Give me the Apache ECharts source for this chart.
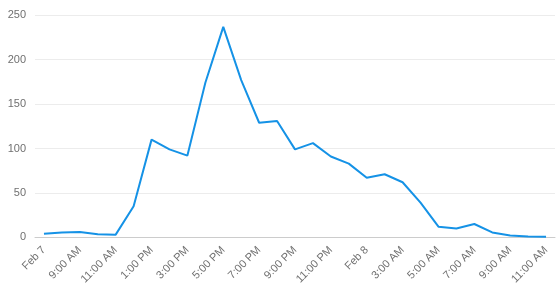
<!DOCTYPE html>
<html><head><meta charset="utf-8">
<script src="https://cdn.jsdelivr.net/npm/echarts@6/dist/echarts.min.js"></script>
<style>html,body{margin:0;padding:0;background:#fff}#c{width:557px;height:302px}</style>
</head><body><div id="c"></div>
<script>
const categories = ["Feb 7","8:00 AM","9:00 AM","10:00 AM","11:00 AM","12:00 PM","1:00 PM","2:00 PM","3:00 PM","4:00 PM","5:00 PM","6:00 PM","7:00 PM","8:00 PM","9:00 PM","10:00 PM","11:00 PM","12:00 AM","Feb 8","2:00 AM","3:00 AM","4:00 AM","5:00 AM","6:00 AM","7:00 AM","8:00 AM","9:00 AM","10:00 AM","11:00 AM"];
const values = [4,5.5,6,3.4,3,35,110,99,92,174,237,177,129,131,99,106,91,83,67,71,62,39,12,10,15,5.5,2,1,0.5];
const yTicks = [0,50,100,150,200,250];

const chart = echarts.init(document.getElementById('c'), null, {renderer:'canvas'});
chart.setOption({
  animation:false,
  grid:{left:35,right:2,top:15.3,bottom:64.7,containLabel:false},
  xAxis:{
    type:'category', data:categories, boundaryGap:true,
    axisLine:{lineStyle:{color:'#cccccc'}},
    axisTick:{alignWithLabel:true, interval:1, length:5, lineStyle:{color:'#cccccc'}},
    axisLabel:{interval:1, rotate:45, color:'#707070', fontSize:11, fontFamily:'Liberation Sans, Arial, sans-serif', margin:11}
  },
  yAxis:{
    type:'value', min:yTicks[0], max:yTicks[yTicks.length-1], interval:50,
    axisLine:{show:false}, axisTick:{show:false},
    splitLine:{lineStyle:{color:'#ececec'}},
    axisLabel:{color:'#707070', fontSize:11, fontFamily:'Liberation Sans, Arial, sans-serif', margin:9}
  },
  series:[{type:'line', data:values, symbol:'none', lineStyle:{color:'#1592e6', width:2}}]
});
</script></body></html>
